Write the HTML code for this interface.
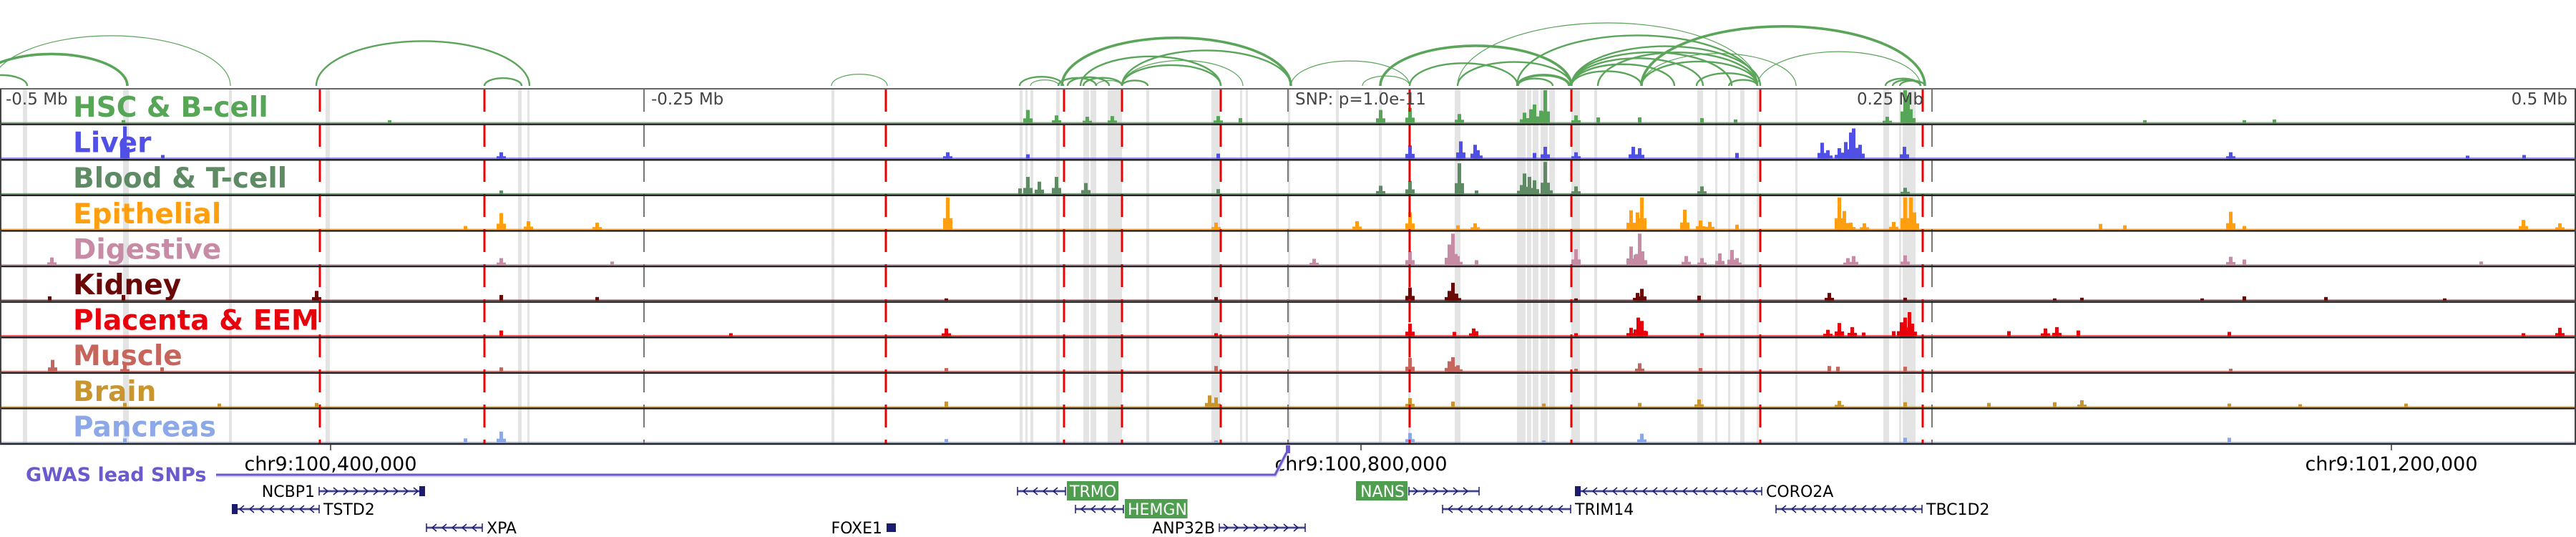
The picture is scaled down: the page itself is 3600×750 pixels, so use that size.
<!DOCTYPE html>
<html><head><meta charset="utf-8"><title>Locus tracks</title>
<style>
html,body{margin:0;padding:0;background:#fff;}
svg{display:block;font-family:"DejaVu Sans","Liberation Sans",sans-serif;}
</style></head>
<body>
<svg id="chart" width="3600" height="750" viewBox="0 0 3600 750" xmlns="http://www.w3.org/2000/svg">
<g id="bands"></g>
<g id="signals"></g>
<g id="vlines"></g>
<g id="frames"></g>
<g id="labels"></g>
<g id="arcs"></g>
<g id="axis"></g>
<g id="genes"></g>
</svg>
<script>
// ---- data (positions in 278bp bins across 1 Mb window, 0..3600) ----
const nBins = 3600;
const trackNames = ["HSC & B-cell","Liver","Blood & T-cell","Epithelial","Digestive","Kidney","Placenta & EEM","Muscle","Brain","Pancreas"];
const trackColors = ["#57a657","#5050e6","#5e8b64","#ff9f10","#c78ba6","#6b0808","#e8000b","#c6655c","#c8952f","#8da8e6"];
const axisTickLabels = ["-0.5 Mb","-0.25 Mb","SNP: p=1.0e-11","0.25 Mb","0.5 Mb"];
const axisTickBins = [0,900,1800,2700,3600];
const redLineBins = [447,677,1238,1487,1568,1706,1970,2196,2460,2687];
const grayLineBins = [900,1800,2700];
const bandBins = [[32,6],[172,8],[320,4],[455,6],[724,5],[737,3],[1162,4],[1425,4],[1433,3],[1440,4],[1476,5],[1514,8],[1524,8],[1548,20],[1602,4],[1693,12],[1733,3],[1741,3],[1800,3],[1867,4],[1927,4],[1968,3],[2033,8],[2120,12],[2134,6],[2142,8],[2153,10],[2165,8],[2196,12],[2228,4],[2372,8],[2397,3],[2415,3],[2432,6],[2455,3],[2509,3],[2632,8],[2654,3],[2659,18]];
const hscPeaks = [[172,4],[544,4],[1436,19],[1476,11],[1519,9],[1554,10],[1702,10],[1733,7],[1929,19],[1970,22],[2039,13],[2130,15],[2139,20],[2144,27],[2153,18],[2159,48],[2202,11],[2233,8],[2291,8],[2378,7],[2425,5],[2637,9],[2662,48],[2666,40],[2670,20],[2997,4],[3136,4],[3178,5]];
const liverPeaks = [[174,47],[227,5],[700,9],[1324,9],[1436,6],[1702,7],[1970,19],[2041,25],[2061,20],[2065,12],[2144,8],[2159,17],[2202,9],[2282,17],[2291,15],[2427,8],[2546,23],[2554,12],[2570,15],[2579,24],[2586,38],[2590,44],[2599,20],[2661,17],[3117,9],[3448,4],[3527,5]];
const bloodPeaks = [[700,5],[1425,8],[1436,25],[1452,18],[1476,25],[1517,16],[1702,7],[1929,12],[1970,19],[2039,45],[2063,5],[2126,13],[2130,30],[2137,25],[2144,20],[2159,47],[2163,15],[2202,11],[2378,11],[2662,9]];
const epiPeaks = [[650,5],[700,24],[738,12],[834,10],[1324,47],[1699,10],[1896,12],[1970,25],[2037,6],[2061,9],[2279,28],[2288,25],[2294,47],[2354,29],[2376,13],[2389,11],[2427,7],[2570,47],[2577,27],[2586,10],[2605,9],[2646,11],[2662,47],[2670,47],[2675,25],[2935,8],[2969,6],[3117,26],[3136,5],[3526,14],[3577,9]];
const digPeaks = [[72,11],[700,10],[855,5],[1836,9],[1970,20],[2025,30],[2030,46],[2037,13],[2063,7],[2202,23],[2279,27],[2285,15],[2291,46],[2295,20],[2356,13],[2378,10],[2403,17],[2420,22],[2427,10],[2582,10],[2590,13],[2662,14],[3117,12],[3136,8],[3467,5]];
const kidneyPeaks = [[69,6],[172,8],[442,14],[700,8],[834,5],[1322,3],[1699,5],[1970,19],[2025,14],[2030,26],[2035,10],[2202,3],[2288,11],[2294,17],[2374,7],[2556,11],[2662,4],[2871,3],[2909,4],[3077,3],[3136,6],[3250,5],[3416,3]];
const placentaPeaks = [[700,8],[1021,4],[1322,11],[1699,4],[1970,18],[2032,6],[2059,11],[2063,7],[2202,4],[2279,12],[2289,27],[2294,22],[2300,7],[2378,4],[2554,9],[2570,19],[2588,13],[2604,5],[2646,7],[2657,20],[2662,27],[2668,35],[2672,18],[2807,7],[2858,11],[2874,13],[2904,8],[3115,6],[3526,4],[3577,12]];
const musclePeaks = [[73,17],[174,10],[226,6],[700,6],[1322,5],[1699,8],[1970,20],[2025,15],[2030,21],[2037,9],[2202,4],[2291,12],[2376,5],[2556,8],[2568,7],[2662,7],[3117,4]];
const brainPeaks = [[174,6],[306,5],[442,6],[1322,8],[1690,17],[1699,14],[1970,13],[2030,8],[2157,5],[2291,6],[2374,11],[2570,9],[2662,7],[2779,6],[2871,7],[2909,10],[3115,5],[3214,4],[3362,5]];
const pancPeaks = [[174,6],[650,6],[700,16],[1322,5],[1699,3],[1970,14],[2157,3],[2294,13],[2662,7],[3115,7]];
const arcEnds = [[-12,322,1],[-34,178,3],[-34,38,2],[442,740,2],[677,729,2],[1162,1240,1],[1425,1486,2],[1440,1480,1],[1479,1532,2],[1492,1550,2],[1514,1568,2],[1532,1568,1],[1568,1604,2],[1484,1804,3],[1568,1804,2],[1510,1706,2],[1568,1737,1],[1568,1706,2],[1804,1970,1],[1904,1970,1],[1929,2196,3],[2037,2196,2],[1970,2121,2],[2037,2456,1],[2294,2690,3],[2120,2456,2],[2196,2460,2],[2196,2420,2],[2196,2380,2],[2196,2340,2],[2196,2294,2],[2121,2193,3],[2121,2170,2],[2371,2456,2],[2416,2456,2],[2233,2456,2],[2294,2456,2],[2456,2684,1],[2294,2510,1],[2635,2684,2],[2645,2684,2],[2655,2690,2]];
const chrTickLabels = ["chr9:100,400,000","chr9:100,800,000","chr9:101,200,000"];
const chrTickBins = [462,1902,3342];
const snpBin = 1800;
const geneNames = ["NCBP1","TSTD2","XPA","FOXE1","TRMO","HEMGN","ANP32B","NANS","TRIM14","CORO2A","TBC1D2"];
const geneStarts = [446,327,596,1239,1422,1503,1704,1969,2016,2204,2482];
const geneEnds = [591,446,674,1252,1489,1570,1824,2067,2195,2462,2686];
const geneRows = [0,1,2,2,0,1,2,0,1,0,1];
const geneStrands = ["+","-","-","+","-","-","+","+","-","-","-"];
const geneHighlight = [0,0,0,0,1,1,0,1,0,0,0];
const geneLabelSide = ["L","R","R","L","R","R","L","L","R","R","R"];
const geneEndBox = ["R","L","","B","","","","","","L",""];

const allPeaks = [hscPeaks,liverPeaks,bloodPeaks,epiPeaks,digPeaks,kidneyPeaks,placentaPeaks,musclePeaks,brainPeaks,pancPeaks];

// ---- scales ----
const W = 3600, trackTop = 124, trackH = 49.6, sigMax = 48;
const xScale = b => b * W / nBins;
const trackY = i => trackTop + i * trackH;
const yScale = (i, v) => trackY(i) + trackH - 2 - (v / sigMax) * (trackH - 4);
const NS = "http://www.w3.org/2000/svg";
function mk(tag, attrs, parent){ const e=document.createElementNS(NS,tag); for(const k in attrs) e.setAttribute(k,attrs[k]); parent.appendChild(e); return e; }

const bottom = trackY(trackNames.length);

// bands
const gB = document.getElementById("bands");
bandBins.forEach(b => {
  const r = mk("rect",{x:xScale(b[0]),y:trackTop,width:xScale(b[1]),height:bottom-trackTop,fill:"#e4e4e4"},gB);
  
  
});

// signals
const gS = document.getElementById("signals");
allPeaks.forEach((peaks, i) => {
  const g = mk("g",{},gS);
  
  
  const base = yScale(i,0);
  mk("rect",{x:0,y:base-1,width:W,height:1.5,fill:trackColors[i],opacity:0.85},g);
  peaks.forEach(p => {
    const y = yScale(i,p[1]);
    const bar = mk("rect",{x:xScale(p[0])-2,y:y,width:5,height:base-y+0.5,fill:trackColors[i]},g);
    
    
    if (p[1] > 8) {
      const y2 = yScale(i,p[1]*0.35);
      mk("rect",{x:xScale(p[0])-6,y:y2,width:13,height:base-y2+0.5,fill:trackColors[i]},g);
    }
  });
});

// vertical lines
const gV = document.getElementById("vlines");
grayLineBins.forEach(b => {
  const l = mk("line",{x1:xScale(b),x2:xScale(b),y1:trackTop,y2:bottom,stroke:"#777",'stroke-width':2,'stroke-dasharray':"32 17"},gV);
  
  
});
redLineBins.forEach(b => {
  const l = mk("line",{x1:xScale(b),x2:xScale(b),y1:trackTop,y2:bottom,stroke:"#ee0000",'stroke-width':3,'stroke-dasharray':"32 17"},gV);
  
  
});

// frames
const gF = document.getElementById("frames");
mk("line",{x1:0,x2:W,y1:trackTop,y2:trackTop,stroke:"#666",'stroke-width':2},gF);
for (let i=1;i<=trackNames.length;i++){
  mk("line",{x1:0,x2:W,y1:trackY(i),y2:trackY(i),stroke:"#222",'stroke-width':2.5},gF);
}
mk("line",{x1:1,x2:1,y1:trackTop,y2:bottom,stroke:"#444",'stroke-width':2},gF);
mk("line",{x1:W-1,x2:W-1,y1:trackTop,y2:bottom,stroke:"#444",'stroke-width':2},gF);

// labels
const gL = document.getElementById("labels");
trackNames.forEach((n,i) => {
  const t = mk("text",{x:102,y:trackY(i)+39,fill:trackColors[i],'font-size':39,'font-weight':"bold"},gL);
  t.textContent = n;
  
  
});
axisTickLabels.forEach((s,i) => {
  const b = axisTickBins[i];
  const anchor = i===0 ? "start" : (i===4 || i===3 ? "end" : "start");
  const x = i===0 ? 8 : (i===4 ? W-12 : (i===3 ? xScale(b)-12 : xScale(b)+10));
  const t = mk("text",{x:x,y:trackTop+22,fill:"#444",'font-size':23,'text-anchor':anchor},gL);
  t.textContent = s;
  
  
});

// arcs
const gA = document.getElementById("arcs");
const arcBase = 120;
arcEnds.forEach(a => {
  const x1 = xScale(a[0]), x2 = xScale(a[1]);
  const rx = (x2-x1)/2, ry = Math.min(rx*0.42, 112);
  const p = mk("path",{d:`M${x1},${arcBase} A${rx},${ry} 0 0 1 ${x2},${arcBase}`,fill:"none",stroke:"#5aa55a",'stroke-width':a[2]*1.2},gA);
  
  
});

// genomic axis
const gX = document.getElementById("axis");
chrTickBins.forEach((b,i) => {
  mk("line",{x1:xScale(b),x2:xScale(b),y1:bottom,y2:bottom+9,stroke:"#333",'stroke-width':1.5},gX);
  const t = mk("text",{x:xScale(b),y:657,'font-size':27,'text-anchor':"middle",fill:"#000"},gX);
  t.textContent = chrTickLabels[i];
  
  
});
const gw = mk("text",{x:36,y:672,'font-size':27,'font-weight':"bold",fill:"#6a5acd"},gX);
gw.textContent = "GWAS lead SNPs";


const sx = xScale(snpBin);
mk("path",{d:`M302,664 L${sx-18},664 L${sx-2},633`,fill:"none",stroke:"#d8d3f3",'stroke-width':5},gX);
const gl = mk("path",{d:`M302,663 L${sx-18},663 L${sx-2},632`,fill:"none",stroke:"#6a5acd",'stroke-width':3},gX);


const sm = mk("rect",{x:sx-3,y:622,width:6,height:11,fill:"#6a5acd"},gX);



// genes
const gG = document.getElementById("genes");
const rowY = [686,711,737];
geneNames.forEach((n,i) => {
  const g = mk("g",{},gG);
  
  
  const y = rowY[geneRows[i]], x1 = xScale(geneStarts[i]), x2 = xScale(geneEnds[i]);
  const col = "#1c1c6e";
  if (geneEndBox[i] !== "B") {
    mk("line",{x1:x1,x2:x2,y1:y,y2:y,stroke:"#b8b8d8",'stroke-width':4},g);
    mk("line",{x1:x1,x2:x2,y1:y,y2:y,stroke:col,'stroke-width':1.6},g);
    mk("line",{x1:x1,x2:x1,y1:y-6,y2:y+6,stroke:col,'stroke-width':1.5},g);
    mk("line",{x1:x2,x2:x2,y1:y-6,y2:y+6,stroke:col,'stroke-width':1.5},g);
    let d = "";
    for (let x = x1+10; x < x2-4; x += 14) {
      d += geneStrands[i]==="+" ? `M${x-4},${y-5} L${x+2},${y} L${x-4},${y+5} ` : `M${x+4},${y-5} L${x-2},${y} L${x+4},${y+5} `;
    }
    mk("path",{d:d,fill:"none",stroke:col,'stroke-width':1.5},g);
  }
  if (geneEndBox[i]==="R") mk("rect",{x:x2-5,y:y-7,width:8,height:14,fill:col},g);
  if (geneEndBox[i]==="L") mk("rect",{x:x1-3,y:y-7,width:8,height:14,fill:col},g);
  if (geneEndBox[i]==="B") mk("rect",{x:x1,y:y-6,width:x2-x1,height:12,fill:col},g);
  const lx = geneLabelSide[i]==="L" ? x1-2 : x2+2;
  const anchor = geneLabelSide[i]==="L" ? "end" : "start";
  if (geneHighlight[i]) {
    const w = n.length*15.5+10;
    const bx = geneLabelSide[i]==="L" ? lx-w : lx;
    mk("rect",{x:bx,y:y-14,width:w,height:27,fill:"#4f9e4f"},g);
  }
  const t = mk("text",{x:geneLabelSide[i]==="L" ? lx-4 : lx+4,y:y+8,'font-size':22,'text-anchor':anchor,fill:geneHighlight[i]?"#fff":"#000"},g);
  t.textContent = n;
  
  
});
</script>
</body></html>
